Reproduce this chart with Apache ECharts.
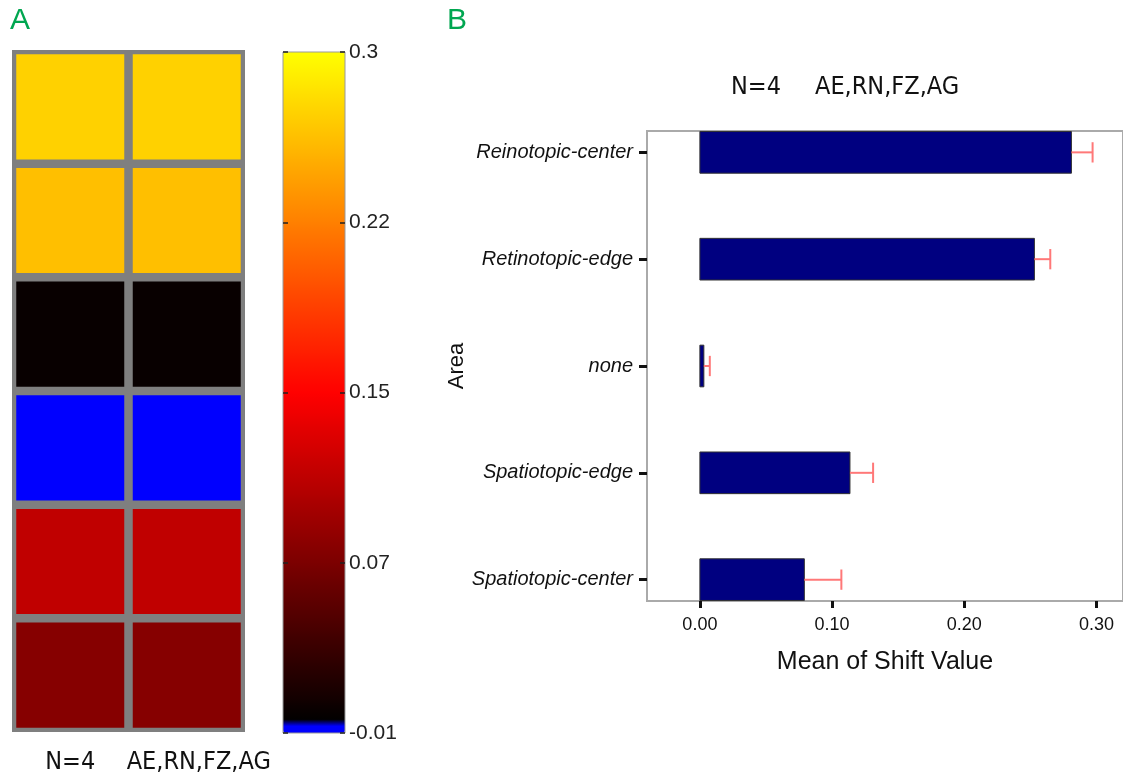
<!DOCTYPE html>
<html><head><meta charset="utf-8">
<script src="https://cdn.jsdelivr.net/npm/echarts@6/dist/echarts.min.js"></script>
<style>html,body{margin:0;padding:0;background:#fff}#c{width:1123px;height:777px}</style>
</head><body><div id="c"></div>
<script>
// ---- Panel A data ----
const heatColumns = ['N=4', 'AE,RN,FZ,AG'];
const heatRowValues = [0.272, 0.261, 0.0, -0.01, 0.108, 0.074];
const colorbarMin = -0.01;
const colorbarMax = 0.3;
const colorbarTickLabels = ['-0.01', '0.07', '0.15', '0.22', '0.3'];
// ---- Panel B data ----
const areas = ['Reinotopic-center', 'Retinotopic-edge', 'none', 'Spatiotopic-edge', 'Spatiotopic-center'];
const meanShift = [0.281, 0.253, 0.003, 0.1135, 0.079];
const shiftError = [0.016, 0.012, 0.0045, 0.0175, 0.028];
const xTickValues = [0, 0.1, 0.2, 0.3];
const panelBTitle = ['N=4', 'AE,RN,FZ,AG'];

const SANS = "'Liberation Sans', Arial, sans-serif";
const NARROW = "'Liberation Sans Narrow', 'DejaVu Sans Condensed', 'Liberation Sans', sans-serif";

// colormap: lowest 1/64 blue, then black -> red -> yellow
const cmap = [];
(function () {
  const N = 256;
  for (let i = 0; i < N; i++) {
    const p = i / (N - 1);
    let r = 0, g = 0, b = 0;
    if (p < 1 / 64) { b = 255; }
    else if (p <= 0.5) { r = Math.round(255 * (p - 1 / 64) / (0.5 - 1 / 64)); }
    else { r = 255; g = Math.round(255 * (p - 0.5) / 0.5); }
    cmap.push('rgb(' + r + ',' + g + ',' + b + ')');
  }
})();

const heatData = [];
heatColumns.forEach((c, ci) => heatRowValues.forEach((v, ri) => heatData.push([ci, ri, v])));
const barData = meanShift.map((v, i) => [v, i, shiftError[i]]);

const chart = echarts.init(document.getElementById('c'), null, { renderer: 'canvas' });
chart.setOption({
  animation: false,
  backgroundColor: '#fff',
  title: [
    { text: 'A', left: 10, top: 6, padding: 0, textStyle: { color: '#00a650', fontSize: 30, fontWeight: 'normal', fontFamily: SANS } },
    { text: 'B', left: 447, top: 6, padding: 0, textStyle: { color: '#00a650', fontSize: 30, fontWeight: 'normal', fontFamily: SANS } },
    { text: panelBTitle[0], left: 731, top: 75, padding: 0, textStyle: { color: '#111', fontSize: 25, fontWeight: 'normal', fontFamily: NARROW } },
    { text: panelBTitle[1], left: 815, top: 75, padding: 0, textStyle: { color: '#111', fontSize: 25, fontWeight: 'normal', fontFamily: NARROW } }
  ],
  grid: [
    { left: 12, top: 50, width: 233, height: 682, show: true, backgroundColor: '#7f7f7f', borderWidth: 0 },
    { left: 283, top: 52, width: 62, height: 681, show: true, backgroundColor: 'transparent', borderColor: '#999', borderWidth: 1, z: 6 },
    { left: 647, top: 131, width: 478, height: 470, show: true, backgroundColor: 'transparent', borderColor: '#aaa', borderWidth: 2 }
  ],
  visualMap: {
    type: 'continuous', seriesIndex: 0, dimension: 2,
    min: colorbarMin, max: colorbarMax,
    inRange: { color: cmap },
    calculable: false, orient: 'vertical',
    left: 283, top: 52, itemWidth: 62, itemHeight: 681, padding: 0,
    z: 1
  },
  xAxis: [
    { gridIndex: 0, type: 'category', data: heatColumns, axisLine: { show: false }, axisTick: { show: false },
      axisLabel: { margin: 18, color: '#111', interval: 0, hideOverlap: false,
        formatter: (v, i) => i === 1 ? '{b|' + v + '}' : '{a|' + v + '}',
        rich: { a: { fontSize: 25, fontFamily: NARROW, color: '#111' }, b: { fontSize: 25, fontFamily: NARROW, color: '#111', padding: [0, 0, 0, 24] } } } },
    { gridIndex: 1, type: 'value', show: false, min: 0, max: 1 },
    { gridIndex: 2, type: 'value', min: -0.04, max: 0.32,
      axisLine: { show: true, onZero: false, lineStyle: { color: '#aaa', width: 2 } },
      axisTick: { show: true, customValues: xTickValues, length: 7, lineStyle: { color: '#111', width: 3 } },
      axisLabel: { customValues: xTickValues, formatter: v => v.toFixed(2), fontSize: 18, color: '#111', fontFamily: SANS, margin: 15 },
      splitLine: { show: false },
      name: 'Mean of Shift Value', nameLocation: 'middle', nameGap: 49,
      nameTextStyle: { fontSize: 25, color: '#111', fontFamily: SANS } }
  ],
  yAxis: [
    { gridIndex: 0, type: 'category', data: heatRowValues.map((v, i) => String(i)), inverse: true, show: false },
    { gridIndex: 1, type: 'value', position: 'right', min: 0, max: 4, interval: 1, z: 7,
      axisLine: { show: false, onZero: false }, splitLine: { show: false },
      axisTick: { show: true, inside: true, length: 5, lineStyle: { color: '#222', width: 1.5 } },
      axisLabel: { formatter: v => colorbarTickLabels[v], fontSize: 21, color: '#222', fontFamily: SANS, margin: 4 } },
    { gridIndex: 1, type: 'value', position: 'left', min: 0, max: 4, interval: 1, z: 7,
      axisLine: { show: false, onZero: false }, splitLine: { show: false },
      axisTick: { show: true, inside: true, length: 5, lineStyle: { color: '#222', width: 1.5 } },
      axisLabel: { show: false } },
    { gridIndex: 2, type: 'value', inverse: true, min: -0.2, max: 4.2,
      axisLine: { show: true, onZero: false, lineStyle: { color: '#aaa', width: 2 } },
      axisTick: { show: true, customValues: [0, 1, 2, 3, 4], length: 8, lineStyle: { color: '#111', width: 3 } },
      axisLabel: { customValues: [0, 1, 2, 3, 4], formatter: v => areas[v], fontSize: 20, fontStyle: 'italic', color: '#111', fontFamily: SANS, margin: 14 },
      splitLine: { show: false },
      name: 'Area', nameLocation: 'middle', nameGap: 176, nameRotate: 90,
      nameTextStyle: { fontSize: 22, color: '#111', fontFamily: SANS } }
  ],
  series: [
    { type: 'custom', xAxisIndex: 0, yAxisIndex: 0, data: heatData, encode: { x: 0, y: 1 }, z: 2,
      renderItem: (params, api) => {
        const c = api.coord([api.value(0), api.value(1)]);
        const s = api.size([1, 1]);
        const inset = 4.25;
        return { type: 'rect', shape: { x: c[0] - s[0] / 2 + inset, y: c[1] - s[1] / 2 + inset, width: s[0] - 2 * inset, height: s[1] - 2 * inset },
          style: { fill: api.visual('color') } };
      } },
    { type: 'custom', xAxisIndex: 2, yAxisIndex: 3, data: barData, encode: { x: 0, y: 1 }, z: 3,
      renderItem: (params, api) => {
        const v = api.value(0), i = api.value(1), e = api.value(2);
        const p0 = api.coord([0, i]);
        const p1 = api.coord([v, i]);
        const pe = api.coord([v + e, i]);
        const h = Math.abs(api.size([0, 0.39])[1]);
        const capH = Math.abs(api.size([0, 0.19])[1]);
        return { type: 'group', children: [
          { type: 'rect', shape: { x: p0[0], y: p0[1] - h / 2, width: p1[0] - p0[0], height: h },
            style: { fill: '#000080', stroke: '#333', lineWidth: 1 } },
          { type: 'line', shape: { x1: p1[0], y1: p1[1], x2: pe[0], y2: pe[1] }, style: { stroke: '#ff7878', lineWidth: 2 } },
          { type: 'line', shape: { x1: pe[0], y1: pe[1] - capH / 2, x2: pe[0], y2: pe[1] + capH / 2 }, style: { stroke: '#ff7878', lineWidth: 2 } }
        ] };
      } }
  ]
});
</script>
</body></html>
